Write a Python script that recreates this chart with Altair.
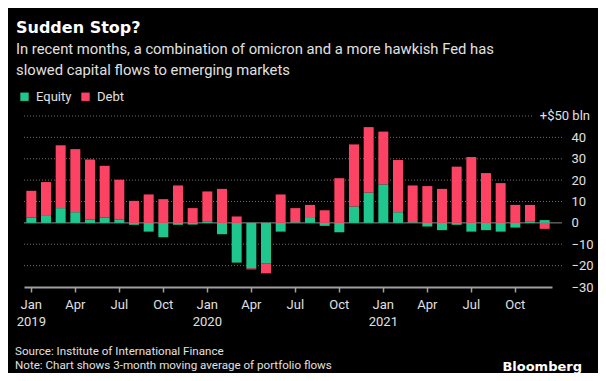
import altair as alt
import pandas as pd

months = [f"{y}-{m:02d}" for y in (2019, 2020, 2021) for m in range(1, 13)]

equity = [2.5, 3.6, 6.9, 5.0, 1.6, 2.5, 1.6, -0.9, -4.1, -6.7, -0.9, -0.8,
          0.5, -5.3, -18.6, -21.3, -18.9, -4.1, 0.3, 2.7, -1.4, -4.4, 7.7, 14.2,
          18.0, 5.0, 0.3, -1.7, -3.4, -0.9, -4.1, -3.4, -4.1, -2.2, 0.5, 1.3]
debt = [12.5, 15.5, 29.4, 29.5, 28.1, 24.2, 18.6, 10.3, 13.3, 11.1, 17.5, 6.9,
        14.2, 15.9, 3.0, -0.5, -4.7, 13.3, 6.6, 5.7, 5.9, 20.9, 29.0, 30.6,
        24.7, 24.4, 17.2, 17.2, 15.9, 26.3, 30.8, 23.3, 18.6, 8.4, 7.9, -2.8]

series_names = ["Equity", "Debt"]
series_colors = ["#1fc78f", "#fd4363"]
tick_months = [m for m in months if m[5:] in ("01", "04", "07", "10")]
y_ticks = [-30, -20, -10, 0, 10, 20, 30, 40]
grid_dotted = [-20, -10, 10, 20, 30, 40]

rows = []
for i, m in enumerate(months):
    rows.append({"month": m, "series": "Equity", "value": equity[i], "ord": 0})
    rows.append({"month": m, "series": "Debt", "value": debt[i], "ord": 1})
df = pd.DataFrame(rows)

FONT = "Roboto"
TXT = "#e0e0e0"
W, H = 528, 171

yscale = alt.Scale(domain=[-30, 50], nice=False, zero=False)
yaxis = alt.Axis(orient="right", values=y_ticks, grid=False, domain=False,
                 ticks=False, tickSize=0, labelAlign="left", labelPadding=19,
                 labelFontSize=13, labelColor=TXT, labelFont=FONT, title=None)


def yenc():
    return alt.Y("value:Q", scale=yscale, axis=yaxis)


label_expr = ("substring(datum.value,5,7)=='01' ? ['Jan', substring(datum.value,0,4)] : "
              "substring(datum.value,5,7)=='04' ? 'Apr' : "
              "substring(datum.value,5,7)=='07' ? 'Jul' : 'Oct'")

grid = alt.Chart(pd.DataFrame({"value": grid_dotted})).mark_rule(
    color="#6e6e6e", strokeDash=[1, 2], strokeWidth=1
).encode(y=yenc(), x=alt.value(0), x2=alt.value(538))

grid_top = alt.Chart(pd.DataFrame({"value": [50]})).mark_rule(
    color="#6e6e6e", strokeDash=[1, 2], strokeWidth=1
).encode(y=yenc(), x=alt.value(0), x2=alt.value(508))

zero = alt.Chart(pd.DataFrame({"value": [0]})).mark_rule(
    color="#8a8a8a", strokeWidth=1
).encode(y=yenc(), x=alt.value(0), x2=alt.value(538))

bars = alt.Chart(df).mark_bar().encode(
    x=alt.X("month:O", sort=months,
            scale=alt.Scale(paddingInner=0.32, paddingOuter=0.16),
            axis=alt.Axis(values=tick_months, labelExpr=label_expr, title=None,
                          labelAngle=0, domainColor="#a0a0a0", domainWidth=2,
                          tickColor="#a0a0a0", tickSize=5, tickWidth=1.5,
                          labelPadding=6, labelFontSize=13, labelColor=TXT,
                          labelFont=FONT, labelLineHeight=17, grid=False)),
    y=alt.Y("value:Q", stack="zero", scale=yscale, axis=yaxis),
    color=alt.Color("series:N", sort=series_names,
                    scale=alt.Scale(domain=series_names, range=series_colors),
                    legend=alt.Legend(orient="none", legendX=-6, legendY=-26,
                                      direction="horizontal", title=None,
                                      symbolType="square", symbolSize=70,
                                      symbolStrokeWidth=0, labelFontSize=13,
                                      labelColor=TXT, labelFont=FONT,
                                      labelOffset=5, columnPadding=7)),
    order=alt.Order("ord:Q"),
)

top_label = alt.Chart(pd.DataFrame({"value": [50]})).mark_text(
    align="right", baseline="middle", font=FONT, fontSize=13, color=TXT
).encode(y=yenc(), x=alt.value(566), text=alt.value("+$50 bln"))

one = pd.DataFrame({"a": [0]})


def txt(s, x, y, size, weight="normal", color=TXT, align="left", font=FONT):
    return alt.Chart(one).mark_text(
        text=s, align=align, baseline="alphabetic", font=font, fontSize=size,
        fontWeight=weight, color=color
    ).encode(x=alt.value(x), y=alt.value(y))


texts = [
    txt("Sudden Stop?", -8, -83, 16, "bold", "#ffffff", font="DejaVu Sans"),
    txt("In recent months, a combination of omicron and a more hawkish Fed has", -8, -62, 14.8),
    txt("slowed capital flows to emerging markets", -8, -41, 14.8),
    txt("Source: Institute of International Finance", -9, 239, 11.6),
    txt("Note: Chart shows 3-month moving average of portfolio flows", -9, 253, 11.6),
    txt("Bloomberg", 558, 255, 13, "bold", "#ffffff", "right", font="DejaVu Sans"),
]

chart = alt.layer(grid, grid_top, zero, bars, top_label, *texts).properties(
    width=W, height=H,
    background="#000000",
    padding={"left": 16, "top": 108, "right": 46, "bottom": 86},
    autosize=alt.AutoSizeParams(type="none"),
).configure_view(stroke=None)

chart.save("out.html", embed_options={"renderer": "svg", "actions": False})
